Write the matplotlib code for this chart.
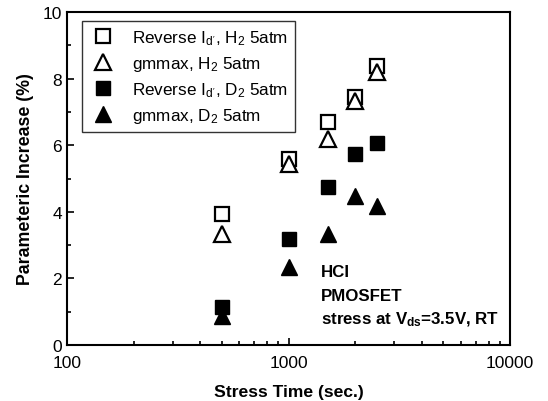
import matplotlib.pyplot as plt

plt.rcParams['font.family'] = ['Liberation Sans', 'DejaVu Sans']
plt.rcParams['mathtext.fontset'] = 'custom'
plt.rcParams['mathtext.rm'] = 'Liberation Sans'
plt.rcParams['mathtext.it'] = 'Liberation Sans'
plt.rcParams['mathtext.bf'] = 'Liberation Sans:bold'

# stress times (sec.)
times = [500, 1000, 1500, 2000, 2500]

# parametric increase (%)
rev_id_h2 = [3.93, 5.59, 6.70, 7.45, 8.38]
gm_h2 = [3.33, 5.44, 6.19, 7.33, 8.20]
rev_id_d2 = [1.14, 3.18, 4.74, 5.74, 6.07]
gm_d2 = [0.87, 2.34, 3.33, 4.47, 4.17]

labels = [r"Reverse I$_{d'}$, H$_2$ 5atm",
          r"gmmax, H$_2$ 5atm",
          r"Reverse I$_{d'}$, D$_2$ 5atm",
          r"gmmax, D$_2$ 5atm"]

fig = plt.figure(figsize=(5.48, 4.02), dpi=100)
ax = fig.add_axes([67/548, 1 - 346/402, 443/548, 333/402])

ax.plot(times, rev_id_h2, 's', ms=10, mfc='white', mec='black', mew=1.6, ls='none', label=labels[0])
ax.plot(times, gm_h2, '^', ms=11, mfc='white', mec='black', mew=1.6, ls='none', label=labels[1])
ax.plot(times, rev_id_d2, 's', ms=10, mfc='black', mec='black', ls='none', label=labels[2])
ax.plot(times, gm_d2, '^', ms=11, mfc='black', mec='black', ls='none', label=labels[3])

ax.set_xscale('log')
ax.set_xlim(100, 10000)
ax.set_ylim(0, 10)
ax.set_yticks([0, 2, 4, 6, 8, 10])
ax.set_yticks([1, 3, 5, 7, 9], minor=True)
ax.set_xticks([100, 1000, 10000])
ax.set_xticklabels(['100', '1000', '10000'])
ax.tick_params(which='both', direction='in', labelsize=12.5, width=1.2)
ax.tick_params(which='major', length=5)
ax.tick_params(which='minor', length=3)
ax.tick_params(axis='x', pad=7.5)
for s in ax.spines.values():
    s.set_linewidth(1.5)

ax.set_xlabel('Stress Time (sec.)', fontsize=12.6, fontweight='bold', labelpad=10)
ax.set_ylabel('Parameteric Increase (%)', fontsize=12.8, fontweight='bold', labelpad=6)

leg = ax.legend(loc='upper left', bbox_to_anchor=(0.034, 0.973), borderaxespad=0,
                fontsize=12.3, frameon=True, fancybox=False, edgecolor='black',
                handletextpad=0.8, borderpad=0.4, labelspacing=0.42, handlelength=1.7)
leg.get_frame().set_linewidth(1.0)

ax.text(1400, 2.2, 'HCI', fontsize=12.2, fontweight='bold', va='center')
ax.text(1400, 1.5, 'PMOSFET', fontsize=12.2, fontweight='bold', va='center')
ax.text(1400, 0.8, r'stress at V$_{\mathbf{ds}}$=3.5V, RT', fontsize=12.2, fontweight='bold', va='center')

fig.savefig('out.png', dpi=100)
